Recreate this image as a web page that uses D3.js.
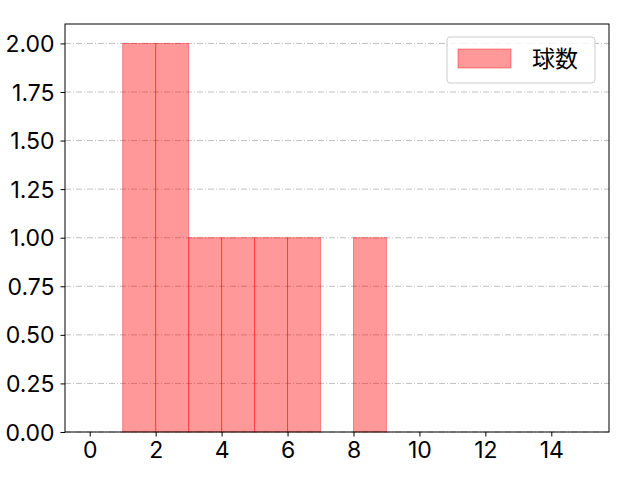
<!DOCTYPE html>
<html><head><meta charset="utf-8">
<script src="https://cdn.jsdelivr.net/npm/d3@7"></script>
<style>body{margin:0;background:#fff}svg{display:block}text{font-family:"Noto Sans CJK JP","DejaVu Sans",sans-serif}</style>
</head><body>
<svg id="c" width="640" height="480"></svg>
<script>
const binStarts = [1,2,3,4,5,6,7,8,9,10,11,12,13,14];
const counts    = [2,2,1,1,1,1,0,1,0,0,0,0,0,0];
const xTicks = [0,2,4,6,8,10,12,14];
const yTicks = [0,0.25,0.5,0.75,1.0,1.25,1.5,1.75,2.0];
const seriesName = "球数";

const svg = d3.select("#c");
const L=65,R=609,T=24,B=432;
const x = d3.scaleLinear().domain([-0.75,15.75]).range([L,R]);
const y = d3.scaleLinear().domain([0,2.1]).range([B,T]);

// grid
svg.append("g").selectAll("line").data(yTicks).join("line")
  .attr("x1",L).attr("x2",R).attr("y1",d=>y(d)).attr("y2",d=>y(d))
  .attr("stroke","#b0b0b0").attr("stroke-width",0.8).attr("stroke-dasharray","6,2,1,2");

// bars
svg.append("g").selectAll("rect").data(binStarts.map((s,i)=>({s,c:counts[i]})).filter(d=>d.c>0)).join("rect")
  .attr("x",d=>x(d.s)).attr("width",d=>x(d.s+1)-x(d.s))
  .attr("y",d=>y(d.c)).attr("height",d=>y(0)-y(d.c))
  .attr("fill","rgba(255,0,0,0.4)").attr("stroke","rgba(255,0,0,0.4)").attr("stroke-width",1);

// axes
const tickFont = 'Inter, "Noto Sans CJK JP", sans-serif';
const xa = svg.append("g").attr("transform",`translate(0,${B})`).call(d3.axisBottom(x).tickValues(xTicks).tickSize(4.5).tickPadding(5).tickFormat(d3.format("d")));
const ya = svg.append("g").attr("transform",`translate(${L},0)`).call(d3.axisLeft(y).tickValues(yTicks).tickSize(4.5).tickPadding(6).tickFormat(d3.format(".2f")));
[xa,ya].forEach(a=>{a.select(".domain").remove();a.selectAll("text").attr("font-size",23).attr("font-weight",400).attr("fill","#000").style("font-family",tickFont);a.selectAll("line").attr("stroke","#000").attr("stroke-width",1);});
ya.selectAll("text").attr("dy","0.35em");

svg.append("rect").attr("x",L).attr("y",T).attr("width",R-L).attr("height",B-T)
  .attr("fill","none").attr("stroke","#000").attr("stroke-width",1);

// legend
const lg = svg.append("g");
lg.append("rect").attr("x",447).attr("y",37).attr("width",148).attr("height",46).attr("rx",3)
  .attr("fill","rgba(255,255,255,0.8)").attr("stroke","#cccccc").attr("stroke-width",1);
lg.append("rect").attr("x",458).attr("y",49).attr("width",53).attr("height",19)
  .attr("fill","rgba(255,0,0,0.4)").attr("stroke","rgba(255,0,0,0.4)");
lg.append("text").attr("x",532).attr("y",59).attr("dy","0.35em").attr("font-size",23).attr("font-weight",400).attr("fill","#000").text(seriesName);
</script>
</body></html>
